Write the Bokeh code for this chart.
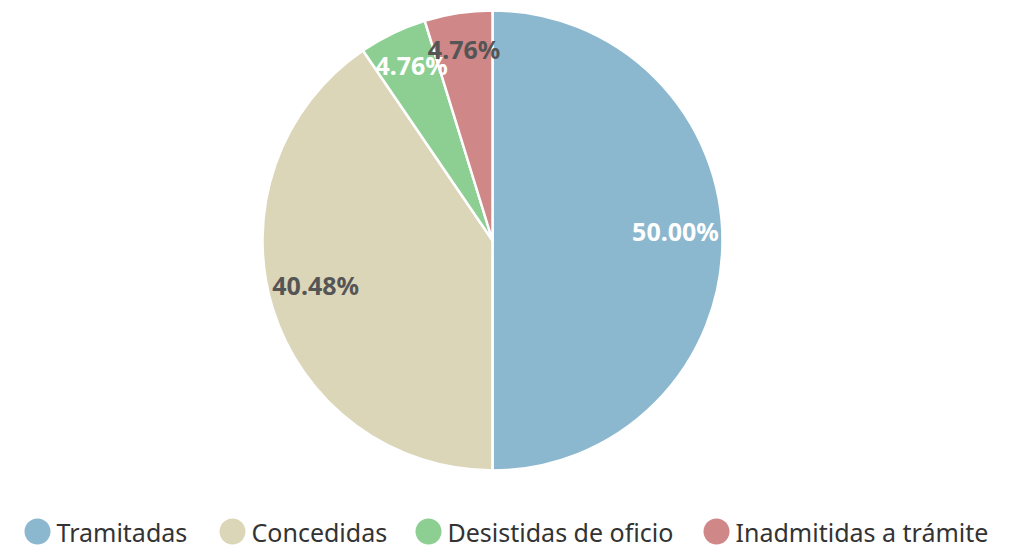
import math
from bokeh.plotting import figure
from bokeh.models import Range1d, ColumnDataSource
from bokeh.core.properties import value
from bokeh.embed import file_html
from bokeh.resources import INLINE

categories = ["Tramitadas", "Concedidas", "Desistidas de oficio", "Inadmitidas a trámite"]
counts = [21, 17, 2, 2]
colors = ["#8cb8cf", "#dcd6b9", "#8dcf92", "#cf8788"]
label_colors = ["#ffffff", "#555555", "#ffffff", "#555555"]

W, H = 1009, 550
p = figure(width=W, height=H, output_backend="svg", toolbar_location=None,
           x_range=Range1d(0, W), y_range=Range1d(0, H), min_border=0)
p.axis.visible = False
p.grid.visible = False
p.outline_line_color = None
p.background_fill_color = "white"
p.border_fill_color = "white"

cx, cy, r = 492, 310, 230
total = sum(counts)
starts, ends, lx, ly, labels = [], [], [], [], []
cum = 0.0
for c in counts:
    a = cum / total
    b = (cum + c) / total
    starts.append(math.pi / 2 - b * 2 * math.pi)
    ends.append(math.pi / 2 - a * 2 * math.pi)
    mid = (a + b) / 2 * 2 * math.pi
    lx.append(cx + 0.8 * r * math.sin(mid) - 1)
    ly.append(cy + 0.8 * r * math.cos(mid) + 10)
    labels.append(f"{c / total * 100:.2f}%")
    cum += c

src = ColumnDataSource(dict(start=starts, end=ends, color=colors, lx=lx, ly=ly,
                            label=labels, lc=label_colors, cat=categories))
p.wedge(x=cx, y=cy, radius=r, start_angle="start", end_angle="end",
        fill_color="color", line_color="white", line_width=2.5, source=src)
p.text(x="lx", y="ly", text="label", text_color="lc", source=src,
       text_font=value("Noto Sans"), text_font_style="bold", text_font_size="25px",
       text_align="center", text_baseline="middle")

# legend
leg_x = [37, 232, 428, 716]
leg_y = 19
lsrc = ColumnDataSource(dict(x=leg_x, tx=[x + 19 for x in leg_x], y=[leg_y] * 4,
                             color=colors, cat=categories))
p.scatter(x="x", y="y", size=26, marker="circle", fill_color="color",
          line_color=None, source=lsrc)
p.text(x="tx", y="y", text="cat", source=lsrc, text_color="#333333",
       text_font=value("Noto Sans"), text_font_size="25px",
       text_align="left", text_baseline="middle")

open("out.html", "w").write(file_html(p, INLINE))
